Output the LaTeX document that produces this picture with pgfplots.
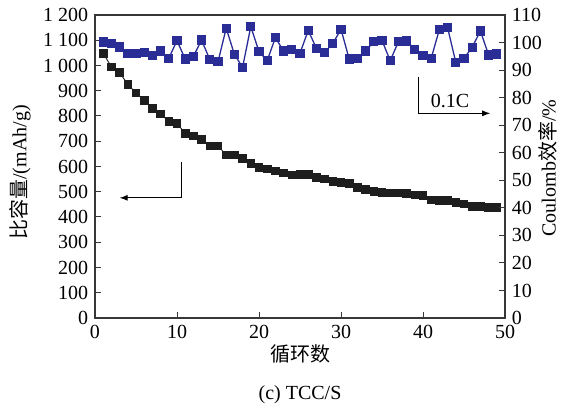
\documentclass[border=0pt]{standalone}
\usepackage{pgfplots}
\pgfplotsset{compat=1.18}
\usepackage{fontspec}
\setmainfont{Liberation Serif}
\newfontfamily\cjk{Noto Sans CJK SC}
\usetikzlibrary{arrows.meta}
\definecolor{cblue}{RGB}{43,45,150}
\definecolor{cblack}{RGB}{30,30,30}
\definecolor{axgray}{RGB}{55,55,55}
\begin{document}
\fontsize{20}{24}\selectfont
\begin{tikzpicture}
\useasboundingbox (-95pt,-88pt) rectangle (482pt,318pt);
\pgfplotsset{every axis/.append style={
  scale only axis, width=410pt, height=303pt, at={(0pt,0pt)}, anchor=south west,
  font=\fontsize{20}{24}\selectfont,
  axis line style={line width=1.2pt, color=axgray},
  tick style={line width=1pt, color=axgray}, major tick length=6pt,
  /pgf/number format/assume math mode=true,
  xmin=0, xmax=50, xtick={0,10,...,50},
  clip=false,
}}
\begin{axis}[ymin=0, ymax=1200, ytick={0,100,...,1200}, ytick pos=left, xtick pos=bottom,
  /pgf/number format/1000 sep={\ },
  xlabel={\cjk 循环数},
  xlabel style={at={(axis description cs:0.5,-0.12)}, anchor=center},
  ylabel={{\cjk 比容量}/(mAh/g)},
  ylabel style={at={(axis description cs:-0.183,0.48)}, anchor=center},
  ]
\addplot[cblack, line width=0.9pt, mark=square*, mark size=3.8pt] coordinates {
(1,1048) (2,995) (3,972) (4,925) (5,892) (6,861) (7,830) (8,808) (9,779) (10,771)
(11,731) (12,721) (13,708) (14,681) (15,681) (16,646) (17,645) (18,632) (19,613) (20,597)
(21,591) (22,583) (23,575) (24,566) (25,568) (26,568) (27,556) (28,550) (29,540) (30,536)
(31,533) (32,516) (33,509) (34,500) (35,498) (36,495) (37,496) (38,494) (39,487) (40,486)
(41,467) (42,466) (43,466) (44,457) (45,451) (46,441) (47,441) (48,438) (49,438)
};
\draw[line width=1pt, black, -{Latex[length=8pt,width=6pt]}] (axis cs:10.5,619) -- (axis cs:10.5,476) -- (axis cs:3,476);
\end{axis}
\begin{axis}[ymin=0, ymax=110, ytick={0,10,...,110}, ytick pos=right, yticklabel pos=right,
  hide x axis,
  ylabel={Coulomb{\cjk 效率}/\%},
  ylabel style={at={(axis description cs:1.105,0.495)}, anchor=center, rotate=0},
  ]
\addplot[cblue, line width=1.3pt, mark=square*, mark size=4pt] coordinates {
(1,100.2) (2,99.7) (3,98.4) (4,96.1) (5,96.1) (6,96.3) (7,95.2) (8,96.9) (9,94.3) (10,100.7)
(11,94.0) (12,95.0) (13,100.9) (14,93.8) (15,93.0) (16,105.2) (17,95.7) (18,91.0) (19,105.8) (20,96.7)
(21,93.4) (22,101.8) (23,96.9) (24,97.6) (25,96.1) (26,104.4) (27,97.9) (28,96.3) (29,99.7) (30,104.8)
(31,94.0) (32,94.3) (33,96.9) (34,100.3) (35,100.8) (36,93.4) (37,100.3) (38,100.6) (39,97.4) (40,95.2)
(41,94.3) (42,104.8) (43,105.4) (44,92.8) (45,94.3) (46,98.3) (47,104.2) (48,95.5) (49,95.8)
};
\draw[line width=1pt, black, -{Latex[length=8pt,width=6pt]}] (axis cs:39.4,87.6) -- (axis cs:39.4,74.3) -- (axis cs:48.2,74.3);
\node at (axis cs:43.3,78.6) {0.1C};
\end{axis}
\node at (205pt,-77pt) {(c) TCC/S};
\end{tikzpicture}
\end{document}
